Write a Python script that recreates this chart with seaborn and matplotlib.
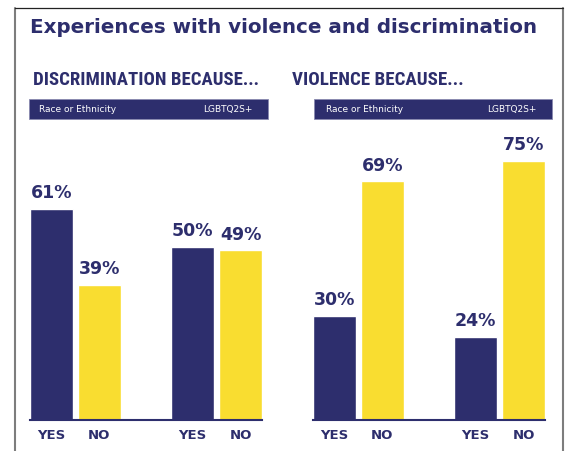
import matplotlib
matplotlib.use("Agg")
import matplotlib.pyplot as plt
import seaborn as sns
import pandas as pd
from matplotlib.patches import Rectangle
from matplotlib.lines import Line2D

# ---- data ----
title = "Experiences with violence and discrimination"
panel_titles = ["DISCRIMINATION BECAUSE...", "VIOLENCE BECAUSE..."]
groups = ["Race or Ethnicity", "LGBTQ2S+"]
answers = ["YES", "NO"]
discrimination_yes = [61, 50]
discrimination_no = [39, 49]
violence_yes = [30, 24]
violence_no = [69, 75]

NAVY = "#2d2e6d"
YELLOW = "#f9dd30"
GRAY = "#7d7d7d"

sns.set_style("white")
plt.rcParams["font.family"] = ["DejaVu Sans"]

W, H = 576, 451
fig = plt.figure(figsize=(W / 100, H / 100), dpi=100)


def fx(px):
    return px / W


def fy(py):
    return (H - py) / H


def make_df(yes, no):
    rows = []
    for g, y, n in zip(groups, yes, no):
        rows.append({"group": g, "answer": answers[0], "value": y})
        rows.append({"group": g, "answer": answers[1], "value": n})
    return pd.DataFrame(rows)


panels = [
    (make_df(discrimination_yes, discrimination_no), 30, 262),
    (make_df(violence_yes, violence_no), 313, 545),
]

base_y = 419.5
px_per_unit = 3.45
ymax = 80

for df, x0, x1 in panels:
    ax = fig.add_axes([fx(x0), fy(base_y), (x1 - x0) / W, ymax * px_per_unit / H])
    sns.barplot(data=df, x="group", y="value", hue="answer", hue_order=answers,
                palette={answers[0]: NAVY, answers[1]: YELLOW}, saturation=1,
                width=0.676, gap=0.104, legend=False, ax=ax, errorbar=None)
    ax.set_ylim(0, ymax)
    lefts = [p.get_x() for p in ax.patches if p.get_width() > 0]
    rights = [p.get_x() + p.get_width() for p in ax.patches if p.get_width() > 0]
    ax.set_xlim(min(lefts), max(rights))
    ticks, labels = [], []
    for cont, ans in zip(ax.containers, answers):
        ax.bar_label(cont, fmt="%g%%", padding=5, fontsize=12.5,
                     fontweight="bold", color=NAVY)
        for p in cont.patches:
            ticks.append(p.get_x() + p.get_width() / 2)
            labels.append(ans)
    ax.set_xticks(ticks)
    ax.set_xticklabels(labels, fontsize=9.5, fontweight="bold", color=NAVY)
    ax.tick_params(axis="x", length=0, pad=7)
    ax.set_yticks([])
    ax.set_xlabel("")
    ax.set_ylabel("")
    for s in ["top", "left", "right"]:
        ax.spines[s].set_visible(False)
    ax.spines["bottom"].set_color(NAVY)
    ax.spines["bottom"].set_linewidth(1.5)
    ax.patch.set_alpha(0)

# ---- frame ----
fig.add_artist(Line2D([fx(15), fx(15)], [0, fy(8)], color=GRAY, lw=1.5,
                      transform=fig.transFigure))
fig.add_artist(Line2D([fx(563), fx(563)], [0, fy(8)], color=GRAY, lw=1.5,
                      transform=fig.transFigure))
fig.add_artist(Line2D([fx(15), fx(563)], [fy(8), fy(8)], color="#222222", lw=0.9,
                      transform=fig.transFigure))

# ---- texts ----
fig.canvas.draw()
renderer = fig.canvas.get_renderer()


def fit_text(x, y, s, target_w, **kw):
    t = fig.text(x, y, s, **kw)
    bb = t.get_window_extent(renderer=renderer)
    t.set_fontsize(t.get_fontsize() * target_w / bb.width)
    return t


fit_text(fx(30), fy(33), title, 508, fontsize=14.3, fontweight="bold",
         color=NAVY, va="baseline", ha="left")

sub_family = ["Liberation Sans Narrow", "Roboto Condensed", "Roboto", "DejaVu Sans"]
fit_text(fx(33), fy(85), panel_titles[0], 226, fontsize=13.5, fontweight="bold",
         fontstretch="condensed", color=NAVY, va="baseline", ha="left",
         family=sub_family)
fit_text(fx(292), fy(85), panel_titles[1], 226 * 157 / 206, fontsize=13.5,
         fontweight="bold", fontstretch="condensed", color=NAVY, va="baseline",
         ha="left", family=sub_family)

# header bars
headers = [(29, 268, 39, 252), (314, 552, 326, 536)]
for bx0, bx1, tl, tr in headers:
    fig.add_artist(Rectangle((fx(bx0), fy(119)), (bx1 - bx0) / W, 20 / H,
                             transform=fig.transFigure, facecolor=NAVY,
                             edgecolor="#8a8ab0", lw=0.6))
    fig.text(fx(tl), fy(109.5), groups[0], fontsize=6.5, color="white",
             va="center", ha="left")
    fig.text(fx(tr), fy(109.5), groups[1], fontsize=6.5, color="white",
             va="center", ha="right")

fig.savefig("out.png", dpi=100)
